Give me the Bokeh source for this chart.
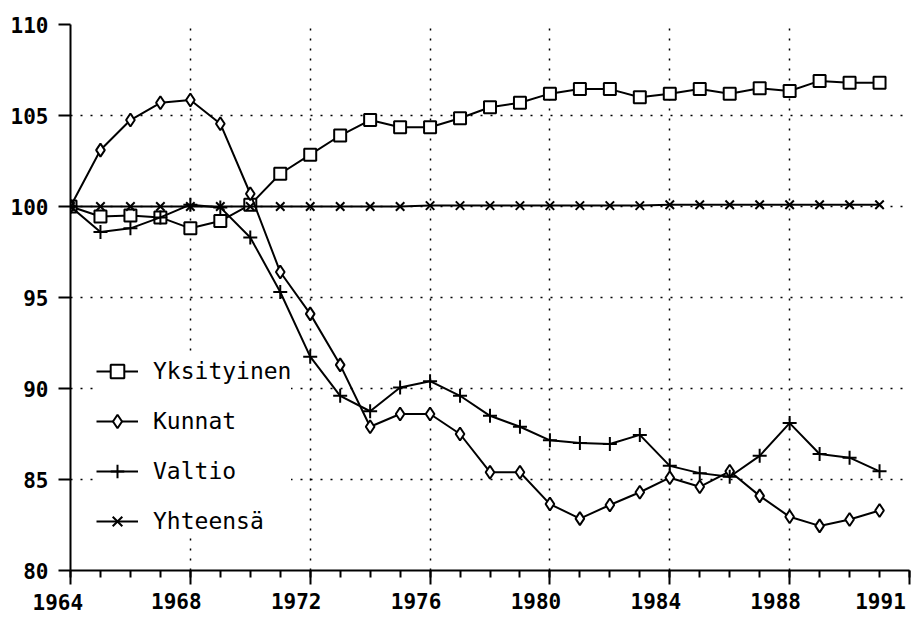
from bokeh.plotting import figure
from bokeh.models import (Range1d, FixedTicker, ColumnDataSource, Legend, LegendItem,
                          LinearAxis)
from bokeh.embed import file_html
from bokeh.resources import INLINE

# ---- data ----
years = list(range(1964, 1992))
yksityinen = [100.0, 99.45, 99.5, 99.4, 98.8, 99.2, 100.1, 101.8, 102.85, 103.9,
              104.75, 104.35, 104.35, 104.85, 105.45, 105.7, 106.2, 106.45, 106.45,
              106.0, 106.2, 106.45, 106.2, 106.5, 106.35, 106.9, 106.8, 106.8]
kunnat = [100.0, 103.1, 104.75, 105.7, 105.85, 104.55, 100.7, 96.4, 94.1, 91.3,
          87.9, 88.6, 88.6, 87.5, 85.4, 85.4, 83.65, 82.85, 83.6, 84.3,
          85.1, 84.6, 85.45, 84.1, 82.95, 82.45, 82.8, 83.3]
valtio = [100.0, 98.6, 98.8, 99.4, 100.1, 99.95, 98.3, 95.3, 91.75, 89.6,
          88.75, 90.05, 90.4, 89.6, 88.5, 87.9, 87.15, 87.0, 86.95, 87.45,
          85.75, 85.35, 85.15, 86.3, 88.1, 86.4, 86.2, 85.45]
yhteensa = [100.0] * 12 + [100.05] * 8 + [100.1] * 8

series_names = ["Yksityinen", "Kunnat", "Valtio", "Yhteensä"]
series_markers = ["square", "diamond", "cross", "x"]
series_sizes = [12, 13, 14, 12]

x_tick_pos = [1964, 1968, 1972, 1976, 1980, 1984, 1988, 1992]
x_tick_labels = ["1964", "1968", "1972", "1976", "1980", "1984", "1988", "1991"]
x_minor = list(range(1964, 1993))
y_ticks = [80, 85, 90, 95, 100, 105, 110]

FONT = "DejaVu Sans Mono"
X0, X1 = 1964, 1992
NBSP = "\u00a0"

p = figure(width=912, height=617, output_backend="svg", toolbar_location=None,
           x_range=Range1d(X0, X1), y_range=Range1d(80, 110),
           min_border_left=70, min_border_right=3, min_border_top=24,
           min_border_bottom=45)
p.outline_line_color = None
p.background_fill_color = "white"
p.border_fill_color = "white"

# the printed year labels sit about 14 px left of their ticks
frame_w = 912 - 70 - 3
shift = 14.0 * (X1 - X0) / frame_w
p.extra_x_ranges = {"labels": Range1d(X0 + shift, X1 + shift)}

xax = p.xaxis[0]
yax = p.yaxis[0]
xax.ticker = FixedTicker(ticks=x_tick_pos, minor_ticks=x_minor)
yax.ticker = FixedTicker(ticks=y_ticks)
p.xgrid.ticker = FixedTicker(ticks=x_tick_pos)
p.ygrid.ticker = FixedTicker(ticks=y_ticks)

for g in (p.xgrid, p.ygrid):
    g.grid_line_color = "black"
    g.grid_line_dash = "2 8"
    g.grid_line_width = 1.5

for ax in (xax, yax):
    ax.axis_line_width = 2
    ax.axis_line_color = "black"
    ax.major_tick_line_width = 2
    ax.major_tick_line_color = "black"
    ax.major_tick_in = 0
    ax.minor_tick_in = 0
    ax.minor_tick_line_width = 2
    ax.minor_tick_line_color = "black"
    ax.major_label_text_font = FONT
    ax.major_label_text_font_style = "bold"
    ax.major_label_text_font_size = "21px"
    ax.major_label_text_color = "black"

xax.major_tick_out = 14
xax.minor_tick_out = 7
# first year label on the main axis (nudged left like the original print)
xax.major_label_overrides = {t: (x_tick_labels[0] + NBSP * 2 if i == 0 else "")
                             for i, t in enumerate(x_tick_pos)}
xax.major_label_standoff = 6
yax.major_tick_out = 12
yax.minor_tick_out = 0
yax.major_label_standoff = 10

# label-only axis for the remaining year labels (last one half a year inside the edge)
label_pos = x_tick_pos[1:-1] + [x_tick_pos[-1] - 0.5]
lab_ax = LinearAxis(x_range_name="labels", ticker=FixedTicker(ticks=label_pos),
                    major_label_overrides=dict(zip(label_pos, x_tick_labels[1:])))
lab_ax.axis_line_color = None
lab_ax.major_tick_line_color = None
lab_ax.minor_tick_line_color = None
lab_ax.major_tick_out = 0
lab_ax.major_tick_in = 0
lab_ax.major_label_standoff = -25
lab_ax.major_label_text_font = FONT
lab_ax.major_label_text_font_style = "bold"
lab_ax.major_label_text_font_size = "21px"
lab_ax.major_label_text_color = "black"
p.add_layout(lab_ax, "below")

items = []
for name, vals, mk, sz in zip(series_names, [yksityinen, kunnat, valtio, yhteensa],
                              series_markers, series_sizes):
    src = ColumnDataSource(dict(x=years, y=vals))
    lr = p.line("x", "y", source=src, line_color="black", line_width=2)
    sr = p.scatter("x", "y", source=src, marker=mk, size=sz, line_color="black",
                   line_width=2, fill_color="white")
    items.append(LegendItem(label=name, renderers=[lr, sr]))

legend = Legend(items=items, location=(26, 32), margin=0, padding=8,
                glyph_width=42, glyph_height=34, label_height=34, spacing=16,
                label_standoff=15, label_text_font=FONT, label_text_font_size="23px",
                label_text_color="black", border_line_color=None,
                background_fill_color="white", background_fill_alpha=1.0)
p.add_layout(legend)

open("out.html", "w").write(file_html(p, INLINE))
